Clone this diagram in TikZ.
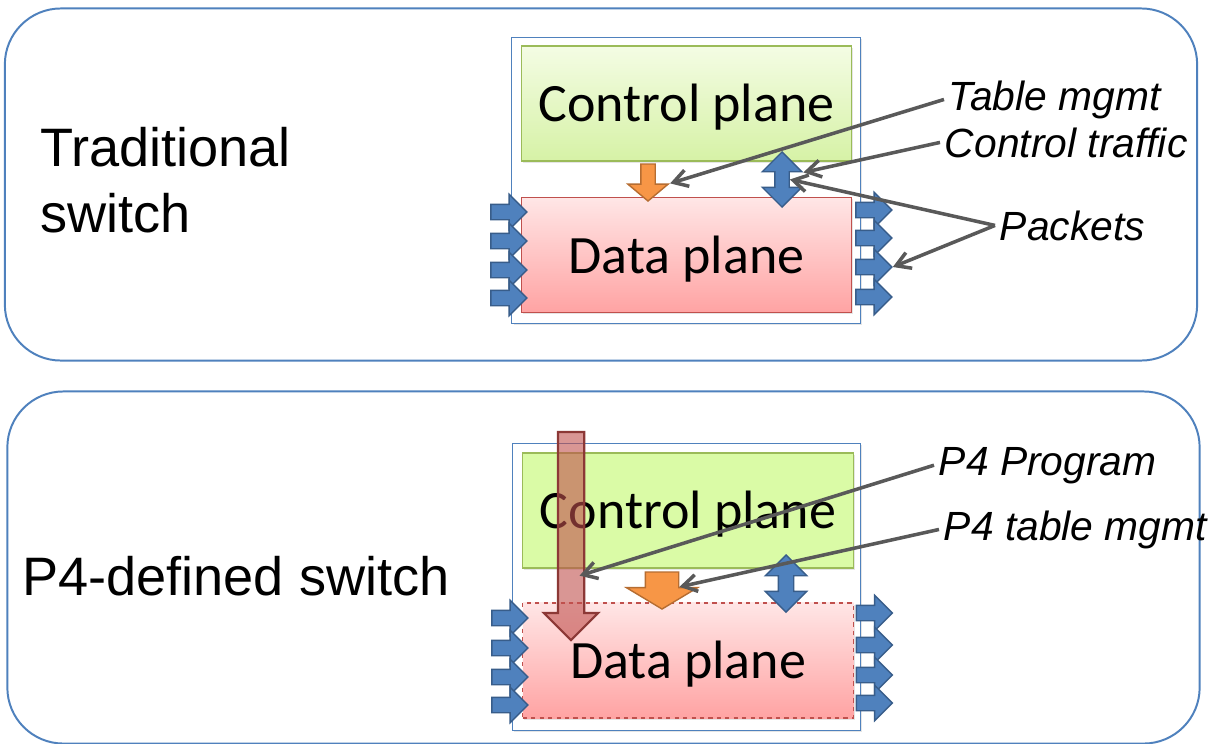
\documentclass[tikz,border=0pt]{standalone}
\usepackage{fontspec}
\setmainfont{Liberation Sans}
\newfontfamily\calibri{Carlito}
\usepackage{xcolor}
\usepackage{tikz}
\definecolor{outerblue}{HTML}{4F81BD}
\definecolor{arrowblue}{HTML}{4F81BD}
\definecolor{arrowblueline}{HTML}{385D8A}
\definecolor{ctrlgreen}{HTML}{D6F2A6}
\definecolor{ctrllight}{HTML}{F4FCE4}
\definecolor{ctrlflat}{HTML}{DAFBA6}
\definecolor{ctrlline}{HTML}{9BBB59}
\definecolor{datared}{HTML}{FFA3A3}
\definecolor{datalight}{HTML}{FFE6E6}
\definecolor{dataline}{HTML}{C0504D}
\definecolor{orangefill}{HTML}{F79646}
\definecolor{orangeline}{HTML}{B66D31}
\definecolor{pointergray}{HTML}{595959}
\definecolor{progred}{HTML}{C0504D}
\definecolor{progline}{HTML}{8C3836}
\usetikzlibrary{shapes.arrows, arrows.meta, shadows, calc}

\tikzset{
	roundbox/.style={draw=outerblue, line width=1.4pt, fill=white, rounded corners=1.4cm, minimum width=29.8cm, minimum height=8.8cm},
	switchbox/.style={draw=outerblue, line width=0.7pt, fill=white, minimum width=8.7cm, minimum height=7.16cm, drop shadow={opacity=0.2, shadow xshift=1.2pt, shadow yshift=-1.2pt}},
	planebox/.style={line width=0.8pt, minimum width=8.26cm, minimum height=2.875cm, font=\calibri\fontsize{38.4}{46}\selectfont, text height=1.2cm, text depth=0.3cm, drop shadow={opacity=0.2, shadow xshift=1.2pt, shadow yshift=-1.2pt}},
	ctrlbox/.style={planebox, draw=ctrlline},
	databox/.style={planebox, draw=dataline, top color=datalight, bottom color=datared},
	sidetext/.style={inner sep=0pt, font=\fontsize{38.5}{46}\selectfont},
	notelabel/.style={font=\itshape\fontsize{29}{34}\selectfont},
	pktarrow/.style={shape=single arrow, draw=arrowblueline, fill=arrowblue, line width=1pt, inner xsep=0pt, inner ysep=0.175cm, single arrow head extend=0.25cm, minimum height=0.9cm},
	tblarrow/.style={shape=single arrow, shape border rotate=270, draw=orangeline, fill=orangefill, line width=1pt, inner ysep=0pt},
	trafficarrow/.style={shape=double arrow, shape border rotate=90, draw=arrowblueline, fill=arrowblue, line width=1pt, inner ysep=0pt},
	progarrow/.style={shape=single arrow, shape border rotate=270, draw=progline, line width=1.6pt, fill=progred, fill opacity=0.6, inner ysep=0pt, inner xsep=0.3cm, single arrow head extend=0.35cm, minimum height=5.2cm},
	pointer/.style={draw=pointergray, line width=2.5pt, -{Straight Barb[length=10pt,width=12pt]}}
}

\begin{document}
\begin{tikzpicture}[x=0.025cm, y=-0.025cm]
	\useasboundingbox (0,0) rectangle (1225,744);
	
	\node[roundbox] (tradsec) at (601,184.5) {};
	\node[roundbox] (p4sec) at (603.5,567.5) {};
	
	\node[sidetext, anchor=base west] (trad1) at (40,166) {Traditional};
	\node[sidetext, anchor=base west] (trad2) at (40,232) {switch};
	\node[sidetext, anchor=base west] (p4def) at (22,595) {P4-defined switch};
	
	% traditional switch
	\node[switchbox] (swT) at (686,180.5) {};
	\node[ctrlbox, top color=ctrllight, bottom color=ctrlgreen] (ctlT) at (686.5,103.5) {Control plane};
	\node[databox] (dataT) at (686.5,255) {Data plane};
	
	\foreach \i/\y in {1/212,2/241,3/270,4/298}
		\node[pktarrow] (inT\i) at (505,\y) {};
	\foreach \i/\y in {1/210,2/238,3/267,4/297}
		\node[pktarrow] (outT\i) at (870,\y) {};
	
	\node[tblarrow, inner xsep=0.1625cm, single arrow head extend=0.325cm, minimum height=0.925cm, single arrow tip angle=100] (tblT) at (648,179.5) {};
	\node[trafficarrow, inner xsep=0.1625cm, double arrow head extend=0.3125cm, minimum height=1.375cm] (trafT) at (782,179.5) {};
	
	\node[notelabel, anchor=base west] (tblmgmt) at (944,110) {Table mgmt};
	\node[notelabel, anchor=base west] (ctltraffic) at (940,157) {Control traffic};
	\node[notelabel, anchor=base west] (packets) at (995,240) {Packets};
	
	\draw[pointer] (tblmgmt.west) -- (tblT.before tip);
	\draw[pointer] (ctltraffic.west) -- (trafT.after tip 1);
	\draw[pointer] (packets.west) -- (trafT.0);
	\draw[pointer] (packets.west) -- (outT3.tip);
	
	% P4 switch
	\node[switchbox] (swP) at (686.5,587) {};
	\node[ctrlbox, fill=ctrlflat] (ctlP) at (688,510.5) {Control plane};
	\node[databox, dashed] (dataP) at (688,660.5) {Data plane};
	
	\foreach \i/\y in {1/618,2/648,3/677,4/705}
		\node[pktarrow] (inP\i) at (506,\y) {};
	\foreach \i/\y in {1/613,2/645,3/675,4/703}
		\node[pktarrow] (outP\i) at (870.5,\y) {};
	
	\node[tblarrow, inner xsep=0.4cm, single arrow head extend=0.475cm, minimum height=0.925cm, single arrow tip angle=118] (tblP) at (662,585.5) {};
	\node[trafficarrow, inner xsep=0.175cm, double arrow head extend=0.325cm, minimum height=1.425cm] (trafP) at (786,583.5) {};
	\node[progarrow] (prog) at (571,529.5) {};
	
	\node[notelabel, anchor=base west] (p4prog) at (934,475) {P4 Program};
	\node[notelabel, anchor=base west] (p4tbl) at (939,540) {P4 table mgmt};
	
	\draw[pointer] (p4prog.west) -- ($(prog.before tail)!0.8!(prog.before head)$);
	\draw[pointer] (p4tbl.west) -- (tblP.before head);
\end{tikzpicture}
\end{document}
